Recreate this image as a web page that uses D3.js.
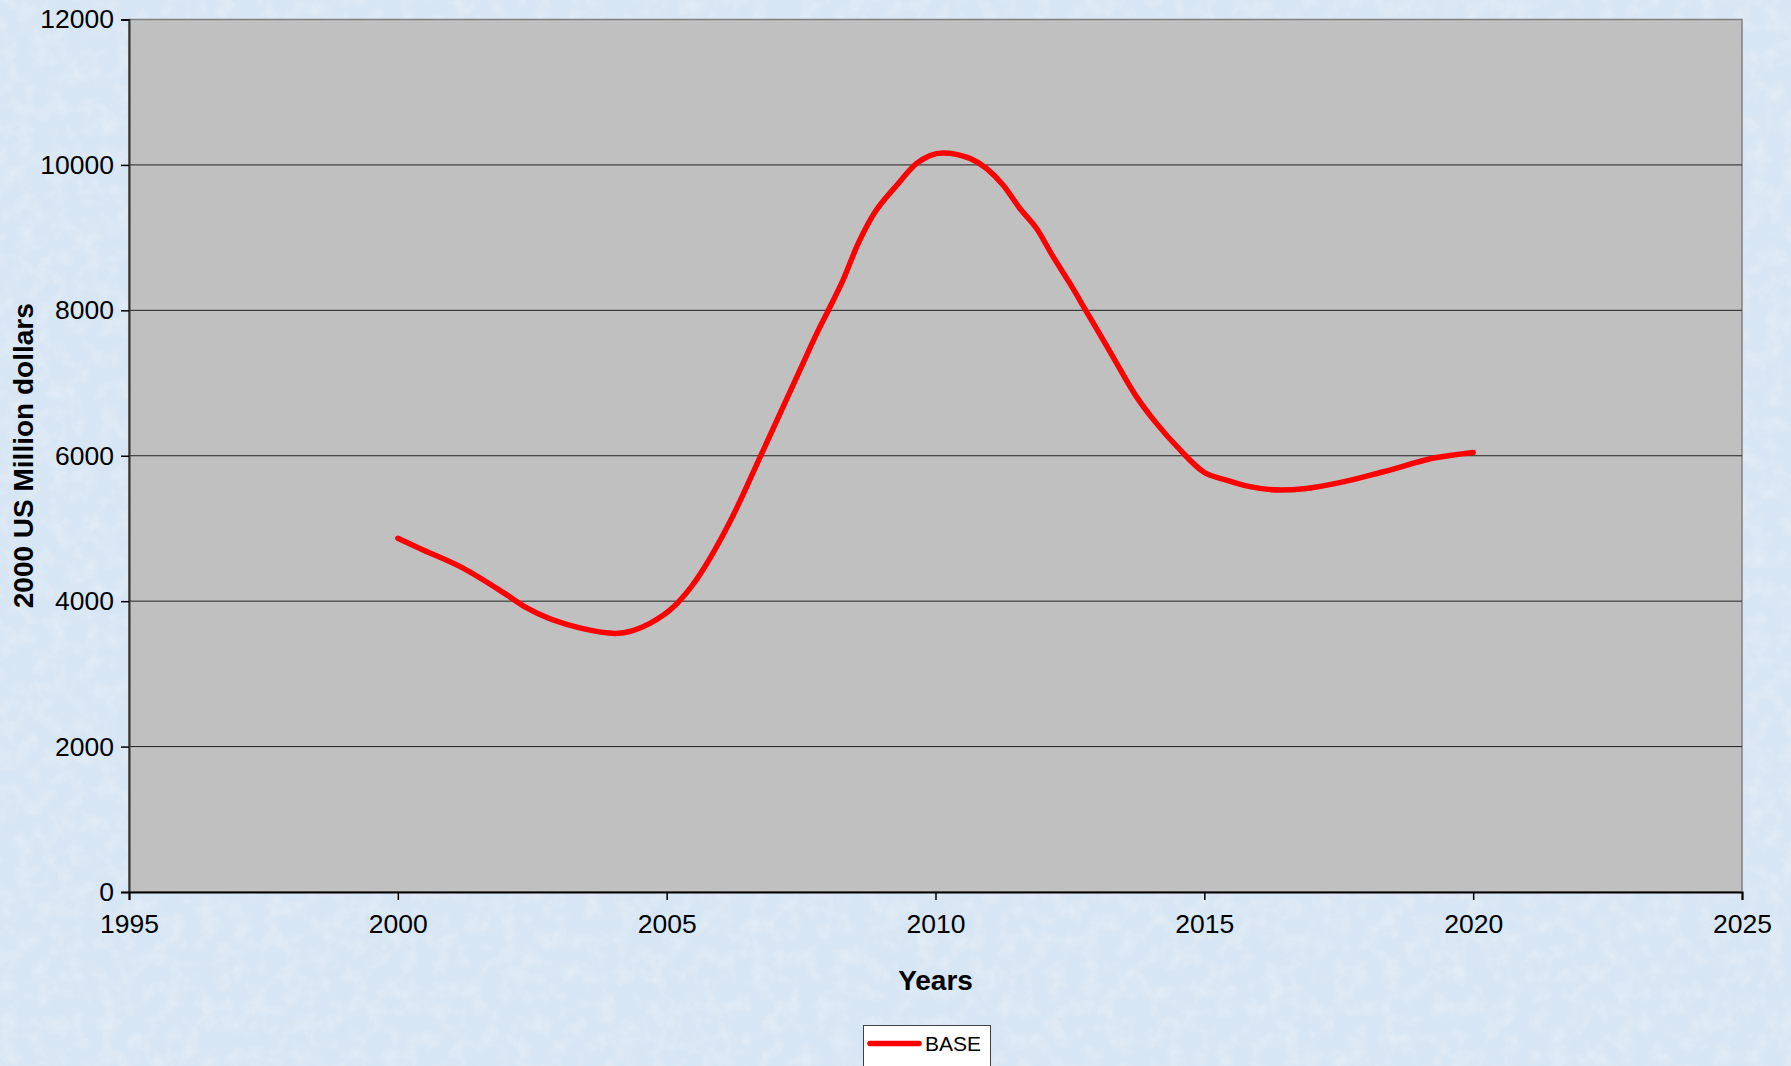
<!DOCTYPE html>
<html>
<head>
<meta charset="utf-8">
<script src="https://cdn.jsdelivr.net/npm/d3@7"></script>
<style>
	body { margin: 0; padding: 0; overflow: hidden; }
	text { font-family: "Liberation Sans", Arial, sans-serif; fill: #000; }
</style>
</head>
<body>
<div id="chart"></div>
<script>
var years = [2000.0, 2000.47, 2001.16, 2002.0, 2002.39, 2003.42, 2004.05, 2004.69, 2005.12, 2005.46,
	2006.21, 2006.74, 2007.48, 2007.79, 2008.04, 2008.28, 2008.55, 2008.83, 2009.28, 2009.65, 2010.14,
	2010.64, 2011.26, 2011.57, 2011.88, 2012.19, 2012.5, 2012.81, 2013.12, 2013.37, 2013.74,
	2014.11, 2014.55, 2014.98, 2015.41, 2015.85, 2016.41, 2016.9, 2017.58, 2018.33, 2019.32, 2020.0];
var baseValues = [4865, 4705, 4475, 4100, 3910, 3625, 3557, 3695, 3915, 4200,
	5140, 5985, 7180, 7680, 8050, 8415, 8900, 9300, 9720, 10020, 10165,
	10090, 9720, 9400, 9125, 8735, 8370, 7980, 7590, 7270, 6810,
	6445, 6080, 5780, 5665, 5575, 5528, 5550, 5640, 5780, 5975, 6046];
var xTicks = [1995, 2000, 2005, 2010, 2015, 2020, 2025];
var yTicks = [0, 2000, 4000, 6000, 8000, 10000, 12000];
var seriesName = "BASE";
var xTitle = "Years";
var yTitle = "2000 US Million dollars";

var width = 1791, height = 1066;
var plotLeft = 129, plotRight = 1742, plotTop = 19.5, plotBottom = 892;

var svg = d3.select("#chart").append("svg")
		.attr("width", width)
		.attr("height", height);

// textured light blue background
var defs = svg.append("defs");
var filt = defs.append("filter")
		.attr("id", "mottle")
		.attr("x", 0).attr("y", 0)
		.attr("width", "100%").attr("height", "100%");
filt.append("feTurbulence")
		.attr("type", "fractalNoise")
		.attr("baseFrequency", 0.06)
		.attr("numOctaves", 4)
		.attr("seed", 7);
filt.append("feColorMatrix")
		.attr("values", "0 0 0 0 1  0 0 0 0 1  0 0 0 0 1  0 0 0 1.2 -0.5");

svg.append("rect")
		.attr("width", width)
		.attr("height", height)
		.style("fill", "#d7e6f4");
svg.append("rect")
		.attr("width", width)
		.attr("height", height)
		.attr("filter", "url(#mottle)")
		.style("opacity", 0.45);

var x = d3.scaleLinear().domain([1995, 2025]).range([plotLeft, plotRight]);
var y = d3.scaleLinear().domain([0, 12000]).range([plotBottom, plotTop]);

svg.append("rect")
		.attr("x", plotLeft)
		.attr("y", plotTop)
		.attr("width", plotRight - plotLeft)
		.attr("height", plotBottom - plotTop)
		.style("fill", "#c0c0c0")
		.style("stroke", "#808080")
		.style("stroke-width", 1.5);

svg.append("g")
		.selectAll("line")
		.data(yTicks.slice(1, -1))
		.enter()
		.append("line")
		.attr("x1", plotLeft)
		.attr("x2", plotRight)
		.attr("y1", function(d) {return y(d)})
		.attr("y2", function(d) {return y(d)})
		.style("stroke", "#202020")
		.style("stroke-width", 1);

var yAxis = svg.append("g")
		.attr("transform", "translate(" + plotLeft + ",0)")
		.call(d3.axisLeft(y).tickValues(yTicks).tickSize(8).tickPadding(7).tickFormat(d3.format("d")));
var xAxis = svg.append("g")
		.attr("transform", "translate(0," + plotBottom + ")")
		.call(d3.axisBottom(x).tickValues(xTicks).tickSize(8).tickPadding(14).tickFormat(d3.format("d")));

yAxis.select(".domain").style("stroke", "#303030").style("stroke-width", 2);
xAxis.select(".domain").style("stroke", "#000").style("stroke-width", 2);
svg.selectAll(".tick line").style("stroke", "#000").style("stroke-width", 1.5);
svg.selectAll(".tick text")
		.style("font-family", "'Liberation Sans', Arial, sans-serif")
		.style("font-size", "26.5px");

svg.append("text")
		.attr("x", (plotLeft + plotRight) / 2)
		.attr("y", 990)
		.attr("text-anchor", "middle")
		.style("font-size", "28px")
		.style("font-weight", "bold")
		.text(xTitle);

svg.append("text")
		.attr("transform", "translate(33," + (plotBottom + plotTop) / 2 + ") rotate(-90)")
		.attr("text-anchor", "middle")
		.style("font-size", "28px")
		.style("font-weight", "bold")
		.text(yTitle);

var line = d3.line()
		.x(function(d, i) {return x(years[i])})
		.y(function(d) {return y(d)})
		.curve(d3.curveMonotoneX);

svg.append("path")
		.datum(baseValues)
		.attr("d", line)
		.style("fill", "none")
		.style("stroke", "#ff0000")
		.style("stroke-width", 5.5)
		.style("stroke-linejoin", "round")
		.style("stroke-linecap", "round");

var legend = svg.append("g").attr("id", "legend");
legend.append("rect")
		.attr("x", 863.5)
		.attr("y", 1025.5)
		.attr("width", 127)
		.attr("height", 60)
		.style("fill", "#fff")
		.style("stroke", "#404040")
		.style("stroke-width", 1);
legend.append("line")
		.attr("x1", 870)
		.attr("x2", 919)
		.attr("y1", 1043.5)
		.attr("y2", 1043.5)
		.style("stroke", "#ff0000")
		.style("stroke-width", 5.5)
		.style("stroke-linecap", "round");
legend.append("text")
		.attr("x", 925)
		.attr("y", 1051)
		.style("font-size", "21px")
		.text(seriesName);
</script>
</body>
</html>
